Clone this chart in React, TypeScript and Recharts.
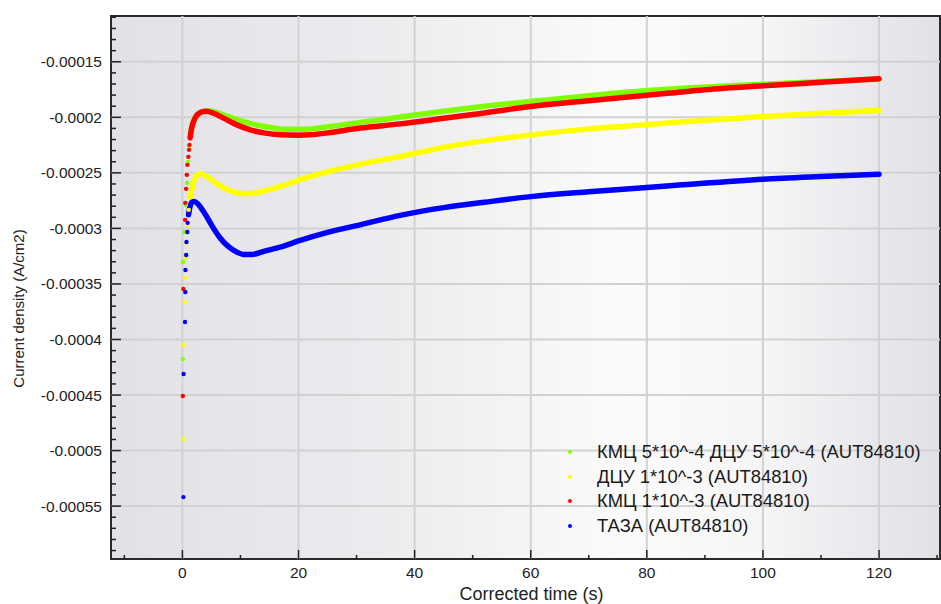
import {
  ComposedChart,
  Line,
  Scatter,
  XAxis,
  YAxis,
  CartesianGrid,
  ReferenceLine,
  ReferenceArea,
  Legend,
  Label,
} from 'recharts';

// legend order
const seriesNames = [
  'КМЦ 5*10^-4 ДЦУ 5*10^-4 (AUT84810)',
  'ДЦУ 1*10^-3 (AUT84810)',
  'КМЦ 1*10^-3 (AUT84810)',
  'ТАЗА (AUT84810)',
];
const seriesColors = ['#80ff00', '#ffff00', '#ff0000', '#0000ff'];

// КМЦ 5*10^-4 ДЦУ 5*10^-4 - first sparse points, then the dense part
const greenStartT = [0.05, 0.12, 0.35, 0.6, 0.8, 1.0, 1.2];
const greenStartJ = [-0.0004176, -0.0003302, -0.0003032, -0.0002788, -0.000259, -0.0002401, -0.0002257];
const greenT = [1.4, 1.7, 2.3, 3.2, 4.3, 5.5, 7, 9, 12, 15, 18, 21, 25, 30, 37.5, 45, 52, 60, 70, 84, 100, 110, 120];
const greenJ = [
  -0.0002149, -0.0002068, -0.0001995, -0.0001955, -0.0001941, -0.000195, -0.0001977, -0.0002014,
  -0.0002059, -0.000209, -0.0002108, -0.0002108, -0.0002086, -0.000205, -0.0001998, -0.0001946,
  -0.0001901, -0.0001858, -0.0001806, -0.0001746, -0.0001703, -0.0001678, -0.0001656,
];

// ДЦУ 1*10^-3
const yellowStartT = [0.15, 0.17, 0.4, 0.45, 0.55, 0.7, 0.9, 1.1];
const yellowStartJ = [-0.0004896, -0.000405, -0.0003662, -0.0003446, -0.0003266, -0.0003131, -0.0002968, -0.0002833];
const yellowT = [1.35, 1.7, 2.2, 3.0, 4.0, 5.0, 6.5, 8.5, 10.5, 12.5, 14, 17, 20, 25, 30, 37.5, 45, 52, 60, 70, 84, 100, 110, 120];
const yellowJ = [
  -0.0002725, -0.0002626, -0.0002545, -0.0002509, -0.0002527, -0.0002563, -0.0002617, -0.0002667,
  -0.0002687, -0.0002682, -0.0002665, -0.000262, -0.0002565, -0.000249, -0.000243, -0.0002353,
  -0.000227, -0.0002212, -0.0002158, -0.0002104, -0.000205, -0.0001993, -0.0001964, -0.0001939,
];

// КМЦ 1*10^-3
const redStartT = [0.07, 0.17, 0.46, 0.5, 0.64, 0.76, 0.86, 1.03, 1.15, 1.22];
const redStartJ = [
  -0.0004509, -0.0003545, -0.0002923, -0.000277, -0.0002644, -0.0002518, -0.0002428, -0.0002356,
  -0.0002293, -0.0002248,
];
const redT = [1.33, 1.6, 2.2, 3.0, 4.0, 5.2, 7, 9.4, 11.7, 14, 16.9, 20, 22, 25, 30.6, 37.5, 45, 50, 60, 70, 84, 90, 100, 110, 120];
const redJ = [
  -0.0002185, -0.0002095, -0.0002005, -0.0001959, -0.0001946, -0.0001959, -0.0002005, -0.0002068,
  -0.0002113, -0.000214, -0.0002158, -0.0002162, -0.0002158, -0.000214, -0.0002097, -0.0002059,
  -0.0002009, -0.0001975, -0.0001903, -0.0001851, -0.0001782, -0.0001752, -0.0001716, -0.0001685,
  -0.0001653,
];

// ТАЗА
const blueStartT = [0.17, 0.2, 0.45, 0.5, 0.52, 0.65, 0.7, 0.85, 0.9];
const blueStartJ = [
  -0.0005419, -0.0004311, -0.0003842, -0.0003572, -0.0003374, -0.0003239, -0.0003122, -0.0003032,
  -0.000295,
];
const blueT = [1.05, 1.3, 1.6, 2.0, 2.6, 3.2, 4.0, 5.0, 6.5, 8.0, 9.5, 10.5, 12, 14, 17, 20, 25, 30.6, 37.5, 45, 52, 60, 70, 84, 100, 110, 120];
const blueJ = [
  -0.0002878, -0.0002806, -0.0002766, -0.0002757, -0.0002775, -0.0002815, -0.0002878, -0.0002968,
  -0.0003086, -0.0003167, -0.0003216, -0.0003234, -0.0003234, -0.0003207, -0.0003167, -0.0003113,
  -0.0003036, -0.0002968, -0.0002883, -0.0002813, -0.0002765, -0.0002714, -0.000267, -0.0002617,
  -0.0002557, -0.0002533, -0.0002512,
];

const xTicks = [-10, 0, 10, 20, 30, 40, 50, 60, 70, 80, 90, 100, 110, 120, 130];
const xLabelTicks = [0, 20, 40, 60, 80, 100, 120];
const yLabelTicks = [-0.00055, -0.0005, -0.00045, -0.0004, -0.00035, -0.0003, -0.00025, -0.0002, -0.00015];

const xDomain = [-12.3, 130.5];
const yDomain = [-0.0005976, -0.0001088];

// minor y ticks every 1e-5 (labels only on the 5e-5 steps)
const yTicks: number[] = [];
for (let m = -590; m <= -110; m += 10) yTicks.push(m / 1e6);

const zip = (ts: number[], js: number[]) => ts.map((t, i) => ({ t, j: js[i] }));

const dense = [zip(greenT, greenJ), zip(yellowT, yellowJ), zip(redT, redJ), zip(blueT, blueJ)];
const sparse = [
  zip(greenStartT, greenStartJ),
  zip(yellowStartT, yellowStartJ),
  zip(redStartT, redStartJ),
  zip(blueStartT, blueStartJ),
];

const font = '"Liberation Sans", Arial, sans-serif';
const ink = '#222';

function XTick(props: any) {
  const { x, y, payload } = props;
  const major = xLabelTicks.includes(payload.value);
  return (
    <g>
      <line x1={x} x2={x} y1={y} y2={y - (major ? 9 : 4)} stroke={ink} strokeWidth={1.5} />
      {major && (
        <text x={x} y={y + 19} textAnchor="middle" fontSize={15.5} fontFamily={font} fill={ink}>
          {payload.value}
        </text>
      )}
    </g>
  );
}

function TopTick(props: any) {
  const { x, y, payload } = props;
  const major = xLabelTicks.includes(payload.value);
  return <line x1={x} x2={x} y1={y} y2={y + (major ? 9 : 4)} stroke={ink} strokeWidth={1.5} />;
}

function YTick(props: any) {
  const { x, y, payload } = props;
  const major = Math.round(payload.value * 1e6) % 50 === 0;
  return (
    <g>
      <line x1={x} x2={x + (major ? 10 : 5)} y1={y} y2={y} stroke={ink} strokeWidth={1.5} />
      {major && (
        <text x={x - 9} y={y + 5.5} textAnchor="end" fontSize={15.5} fontFamily={font} fill={ink}>
          {String(payload.value)}
        </text>
      )}
    </g>
  );
}

function LegendBox() {
  return (
    <div style={{ fontFamily: font, fontSize: 18.4, color: '#1a1a1a' }}>
      {seriesNames.map((name, i) => (
        <div key={name} style={{ display: 'flex', alignItems: 'center', height: 24.5, whiteSpace: 'nowrap' }}>
          <span
            style={{
              width: 4,
              height: 4,
              borderRadius: 2,
              background: seriesColors[i],
              marginLeft: 8,
              marginRight: 25,
            }}
          />
          <span>{name}</span>
        </div>
      ))}
    </div>
  );
}

export default function App() {
  return (
    <div style={{ position: 'absolute', left: 0, top: 0, width: 941, height: 604, background: '#fff' }}>
      <ComposedChart width={941} height={604} margin={{ top: 0, right: 1, bottom: 0, left: 0 }}>
        <defs>
          <linearGradient id="plotBg" x1="0" y1="0" x2="1" y2="0">
            <stop offset="0%" stopColor="#e1e1e6" />
            <stop offset="35%" stopColor="#ededf0" />
            <stop offset="62%" stopColor="#fbfbfb" />
            <stop offset="78%" stopColor="#f6f6f8" />
            <stop offset="100%" stopColor="#e1e1e6" />
          </linearGradient>
        </defs>
        <CartesianGrid horizontal={false} vertical={false} fill="url(#plotBg)" />
        {xLabelTicks.map((v) => (
          <ReferenceLine key={'gx' + v} x={v} stroke="#d2d2d2" strokeWidth={2} />
        ))}
        {yLabelTicks.map((v) => (
          <ReferenceLine key={'gy' + v} y={v} stroke="#d2d2d2" strokeWidth={2} />
        ))}
        <XAxis
          dataKey="t"
          type="number"
          domain={xDomain}
          ticks={xTicks}
          allowDataOverflow
          interval={0}
          height={45}
          tickSize={0}
          tickMargin={0}
          tickLine={false}
          axisLine={false}
          tick={<XTick />}
        >
          <Label
            content={(p: any) => (
              <text
                x={p.viewBox.x + p.viewBox.width / 2 + 6}
                y={600}
                textAnchor="middle"
                fontSize={18}
                fontFamily={font}
                fill={ink}
              >
                Corrected time (s)
              </text>
            )}
          />
        </XAxis>
        <XAxis
          xAxisId="top"
          orientation="top"
          type="number"
          domain={xDomain}
          ticks={xTicks}
          allowDataOverflow
          interval={0}
          height={16}
          tickSize={0}
          tickMargin={0}
          tickLine={false}
          axisLine={false}
          tick={<TopTick />}
        />
        <YAxis
          dataKey="j"
          type="number"
          domain={yDomain}
          ticks={yTicks}
          allowDataOverflow
          interval={0}
          width={111}
          tickSize={0}
          tickMargin={0}
          tickLine={false}
          axisLine={false}
          tick={<YTick />}
        >
          <Label
            content={(p: any) => {
              const cx = 18;
              const cy = p.viewBox.y + p.viewBox.height / 2 + 21;
              return (
                <text
                  x={cx}
                  y={cy}
                  transform={`rotate(-90 ${cx} ${cy})`}
                  textAnchor="middle"
                  dominantBaseline="central"
                  fontSize={15}
                  fontFamily={font}
                  fill={ink}
                >
                  Current density (A/cm2)
                </text>
              );
            }}
          />
        </YAxis>
        {dense.map((d, i) => (
          <Line
            key={'l' + i}
            data={d}
            dataKey="j"
            type="monotone"
            stroke={seriesColors[i]}
            strokeWidth={5.5}
            strokeLinecap="round"
            dot={false}
            legendType="none"
            isAnimationActive={false}
          />
        ))}
        {sparse.map((d, i) => (
          <Scatter
            key={'s' + i}
            data={d}
            dataKey="j"
            fill={seriesColors[i]}
            legendType="none"
            isAnimationActive={false}
            shape={(p: any) => <circle cx={p.cx} cy={p.cy} r={2.2} fill={seriesColors[i]} />}
          />
        ))}
        <ReferenceArea
          x1={xDomain[0]}
          x2={xDomain[1]}
          y1={yDomain[0]}
          y2={yDomain[1]}
          fill="none"
          stroke="#2a2a2a"
          strokeWidth={2}
        />
        <Legend
          layout="vertical"
          align="center"
          verticalAlign="middle"
          content={<LegendBox />}
          wrapperStyle={{ left: 560, top: 440, width: 380 }}
        />
      </ComposedChart>
    </div>
  );
}
